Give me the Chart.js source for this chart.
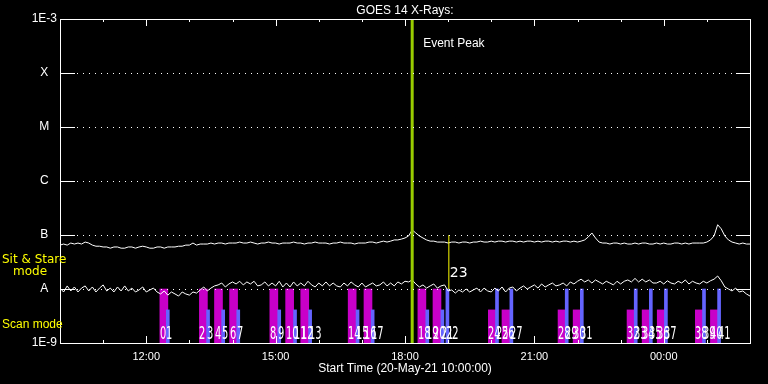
<!DOCTYPE html>
<html>
<head>
<meta charset="utf-8">
<title>GOES 14 X-Rays</title>
<script src="https://cdn.jsdelivr.net/npm/chart.js@4.4.1/dist/chart.umd.min.js"></script>
<style>
  html, body { margin: 0; padding: 0; background: #000; }
  #wrap { width: 768px; height: 384px; }
</style>
</head>
<body>
<div id="wrap"><canvas id="myChart" width="768" height="384"></canvas></div>
<script>
// GOES 14 x-ray flux, 20-May-21 10:00 -> 21-May-21 02:00, one sample every 5 min
let startHour = 10;      // plot starts 10:00
let sampleStep = 5;      // minutes between samples

// long channel (1-8 A), units of 1e-9 W/m2
let longFlux = [
  65,68,65,71,68,71,68,74,71,
  65,62,62,60,
  60,57,60,60,57,57,60,60,57,60,62,60,57,57,60,60,57,60,
  60,60,62,62,65,65,
  71,65,
  68,68,68,71,68,71,71,68,71,71,71,74,
  71,71,74,71,68,71,71,74,71,71,68,71,71,71,74,71,71,68,71,71,74,71,71,71,68,71,71,74,71,71,71,68,71,71,71,
  74,74,71,74,77,74,77,
  81,81,84,88,
  96,124,109,96,88,81,77,77,74,
  74,74,71,74,74,
  71,74,74,71,74,74,77,74,74,77,74,77,77,74,77,77,74,77,74,77,
  77,74,77,74,77,77,74,77,74,77,77,74,77,74,77,
  81,92,109,88,74,71,
  71,68,71,71,68,71,68,68,71,68,71,71,68,68,71,68,71,68,68,71,71,68,71,68,71,71,71,
  71,74,81,96,155,130,96,81,74,71,
  68,71,68,68
];

// short channel (0.5-4 A), units of 1e-9 W/m2
let shortFlux = [
  10.4,8.8,11.4,9.2,10.9,8.8,10.4,11.4,9.2,10.9,8.8,10.4,11.9,9.2,10.4,8.8,10.9,9.2,11.4,9.2,10.4,8.8,9.6,10.9,8.8,9.6,10.4,8.8,
  8.1,9.2,7.7,8.8,8.1,7.4,8.8,8.1,7.7,8.8,8.4,
  9.6,10.9,9.2,10.4,11.4,
  11.9,12.9,10.9,12.4,13.5,
  12.4,13.9,11.9,13.5,12.4,13.9,11.4,
  11.9,13.5,11.4,12.9,11.4,13.9,10.9,12.9,10.9,13.5,11.4,12.9,11.4,13.9,11.9,10.9,12.9,11.4,13.5,11.4,
  12.9,11.4,10.9,12.9,11.4,13.5,11.9,10.9,12.9,10.9,11.9,12.9,11.4,11.9,13.5,11.4,12.9,11.4,13.5,12.4,13.9,
  13.5,14.7,
  12.4,10.9,11.9,10.4,11.4,12.4,10.4,11.4,11.9,
  9.2,9.6,8.4,9.6,8.8,10.0,8.8,
  9.6,10.4,8.8,10.4,9.2,8.8,10.4,9.2,10.9,8.8,10.4,10.9,9.2,10.4,11.4,10.0,
  10.9,11.9,10.4,12.4,10.9,11.9,12.9,11.4,
  11.9,12.9,11.4,13.5,12.4,13.9,
  15.2,
  13.5,14.7,12.9,14.7,13.5,
  12.4,13.9,12.9,11.9,13.9,12.4,13.9,
  14.7,13.5,15.7,13.5,15.2,13.5,14.7,12.9,
  12.9,13.9,12.4,14.2,12.9,12.4,13.9,12.9,14.7,12.4,13.9,12.9,12.4,13.9,12.9,14.2,15.2,
  17.4,14.2,
  10.9,10.0,9.2,10.4,8.8,9.2,8.1,7.4
];

// scan mode observations (start times), bar tops in units of 1e-9
let scanMagStart = ['12:19','13:14','13:35','13:56','14:52','15:14','15:35','16:41','17:03','18:18','18:39',
                    '19:56','20:15','21:33','21:54','23:09','23:30','23:51','00:44','01:05'];
let scanMagTop   = [10,10,10,10,10,10,10,10,10,10,10,
                    4.1,4.1,4.1,4.1,4.1,4.1,4.1,4.1,4.1];
let scanBlueStart = ['12:28','13:24','13:45','14:06','15:03','15:25','15:46','16:52','17:13','18:29','18:50','18:57',
                     '20:06','20:26','21:43','22:04','23:19','23:40','00:01','00:54','01:15'];
let scanBlueTop   = [4.1,4.1,4.1,4.1,4.1,4.1,4.1,4.1,4.1,4.1,4.1,10,
                     10,10,10,10,10,10,10,10,10];
let magMinutes = 11;
let blueMinutes = 4;

// sit & stare observation and event peak
let stareTime = '19:01';
let stareRange = [10, 100];   // 1e-9 units
let peakTime = '18:10';

let tickTimes = ['12:00','15:00','18:00','21:00','00:00'];
let yTickValues = [1e-9, 1e-8, 1e-7, 1e-6, 1e-5, 1e-4, 1e-3];
let yTickLabels = ['1E-9','A','B','C','M','X','1E-3'];

function toH(s) {
    let [h, m] = s.split(':').map(Number);
    let v = h + m / 60 - startHour;
    if (v < 0) v += 24;
    return v;
}

function series(vals) {
    return vals.map((v, k) => ({ x: k * sampleStep / 60, y: v * 1e-9 }));
}

// numbered scan labels: everything sorted by time
let scanEvents = [];
scanMagStart.forEach(s => scanEvents.push({ t: toH(s), kind: 'scan' }));
scanBlueStart.forEach(s => scanEvents.push({ t: toH(s), kind: 'scan' }));
scanEvents.push({ t: toH(stareTime), kind: 'stare' });
scanEvents.sort((a, b) => a.t - b.t);

const frame = {
    id: 'frame',
    beforeDraw(chart) {
        const ctx = chart.ctx;
        ctx.save();
        ctx.fillStyle = '#000';
        ctx.fillRect(0, 0, chart.width, chart.height);
        ctx.restore();
    },
    afterDatasetsDraw(chart) {
        const { ctx, chartArea: a, scales: { x, y } } = chart;
        ctx.save();
        ctx.strokeStyle = '#fff';
        ctx.lineWidth = 1;

        // box
        ctx.strokeRect(a.left + 0.5, a.top + 0.5, a.right - a.left, a.bottom - a.top);

        // decade grid: solid ticks at both ends, dotted between
        yTickValues.slice(1, -1).forEach(v => {
            let py = Math.round(y.getPixelForValue(v)) + 0.5;
            ctx.setLineDash([]);
            ctx.beginPath();
            ctx.moveTo(a.left, py); ctx.lineTo(a.left + 15, py);
            ctx.moveTo(a.right - 14, py); ctx.lineTo(a.right, py);
            ctx.stroke();
            ctx.setLineDash([1, 5]);
            ctx.beginPath();
            ctx.moveTo(a.left + 17, py); ctx.lineTo(a.right - 14, py);
            ctx.stroke();
        });
        ctx.setLineDash([]);

        // hour ticks, inside top and bottom
        let majors = tickTimes.map(toH);
        for (let h = 1; h < 16; h++) {
            let px = Math.round(x.getPixelForValue(h)) + 0.5;
            let len = majors.includes(h) ? 7 : 3;
            ctx.beginPath();
            ctx.moveTo(px, a.bottom); ctx.lineTo(px, a.bottom - len);
            ctx.moveTo(px, a.top); ctx.lineTo(px, a.top + len);
            ctx.stroke();
        }

        // texts
        let cx = (a.left + a.right) / 2;
        ctx.fillStyle = '#fff';
        ctx.font = '12px "Liberation Sans"';
        ctx.textAlign = 'center';
        ctx.fillText('GOES 14 X-Rays:', cx, 14);
        ctx.fillText('Start Time (20-May-21 10:00:00)', cx, 372);

        ctx.textAlign = 'left';
        ctx.fillText('Event Peak', x.getPixelForValue(toH(peakTime)) + 11, 47);

        ctx.fillStyle = '#ffff00';
        ctx.font = '12px "DejaVu Sans"';
        ctx.fillText('Sit & Stare', 2, 263);
        ctx.fillText('mode', 13, 275);
        ctx.font = '12px "Liberation Sans"';
        ctx.fillText('Scan mode', 2, 328);

        // scan numbers
        ctx.fillStyle = '#fff';
        scanEvents.forEach((e, i) => {
            let px = x.getPixelForValue(e.t);
            if (e.kind === 'stare') {
                ctx.font = '14px "DejaVu Sans"';
                ctx.fillText(String(i), px + 1, 277);
            } else {
                ctx.save();
                ctx.font = '17px "DejaVu Sans"';
                ctx.translate(Math.round(px), 339);
                ctx.scale(0.58, 1);
                ctx.fillText(String(i), 0, 0);
                ctx.restore();
            }
        });
        ctx.restore();
    }
};

new Chart(document.getElementById('myChart'), {
    type: 'line',
    data: {
        datasets: [
            {
                label: 'long',
                data: series(longFlux),
                borderColor: '#fff',
                borderWidth: 1,
                pointRadius: 0,
                order: 1
            },
            {
                label: 'short',
                data: series(shortFlux),
                borderColor: '#fff',
                borderWidth: 1,
                pointRadius: 0,
                order: 1
            },
            {
                label: 'peak',
                data: [{ x: toH(peakTime), y: 1e-9 }, { x: toH(peakTime), y: 1e-3 }],
                borderColor: '#99cc00',
                borderWidth: 3,
                pointRadius: 0,
                order: 0
            },
            {
                label: 'stare',
                data: [{ x: toH(stareTime), y: stareRange[0] * 1e-9 }, { x: toH(stareTime), y: stareRange[1] * 1e-9 }],
                borderColor: '#ffff00',
                borderWidth: 1,
                pointRadius: 0,
                order: 0
            },
            {
                type: 'bar',
                label: 'scan a',
                data: scanMagStart.map((s, i) => ({ x: toH(s) + magMinutes / 120, y: [1e-9, scanMagTop[i] * 1e-9] })),
                backgroundColor: '#c800c8',
                barThickness: 8,
                grouped: false,
                order: 3
            },
            {
                type: 'bar',
                label: 'scan b',
                data: scanBlueStart.map((s, i) => ({ x: toH(s) + blueMinutes / 120, y: [1e-9, scanBlueTop[i] * 1e-9] })),
                backgroundColor: '#6464ff',
                barThickness: 3,
                grouped: false,
                order: 2
            }
        ]
    },
    options: {
        responsive: false,
        animation: false,
        layout: { padding: { top: 19, right: 18, left: 0, bottom: 0 } },
        plugins: {
            legend: { display: false },
            tooltip: { enabled: false }
        },
        scales: {
            x: {
                type: 'linear',
                min: 0,
                max: 16,
                offset: false,
                grid: { display: false, drawTicks: false },
                border: { display: false },
                afterBuildTicks: (scale) => { scale.ticks = tickTimes.map(t => ({ value: toH(t) })); },
                afterFit: (scale) => { scale.height = 41; },
                ticks: {
                    color: '#fff',
                    font: { family: 'Liberation Sans', size: 11 },
                    padding: 7,
                    maxRotation: 0,
                    autoSkip: false,
                    callback: (value, index) => tickTimes[index]
                }
            },
            y: {
                type: 'logarithmic',
                min: 1e-9,
                max: 1e-3,
                grid: { display: false, drawTicks: false },
                border: { display: false },
                afterBuildTicks: (scale) => { scale.ticks = yTickValues.map(v => ({ value: v })); },
                afterFit: (scale) => { scale.width = 60; },
                ticks: {
                    color: '#fff',
                    font: { family: 'Liberation Sans', size: 12 },
                    padding: 3,
                    crossAlign: 'center',
                    autoSkip: false,
                    callback: (value, index) => yTickLabels[index]
                }
            }
        }
    },
    plugins: [frame]
});
</script>
</body>
</html>
